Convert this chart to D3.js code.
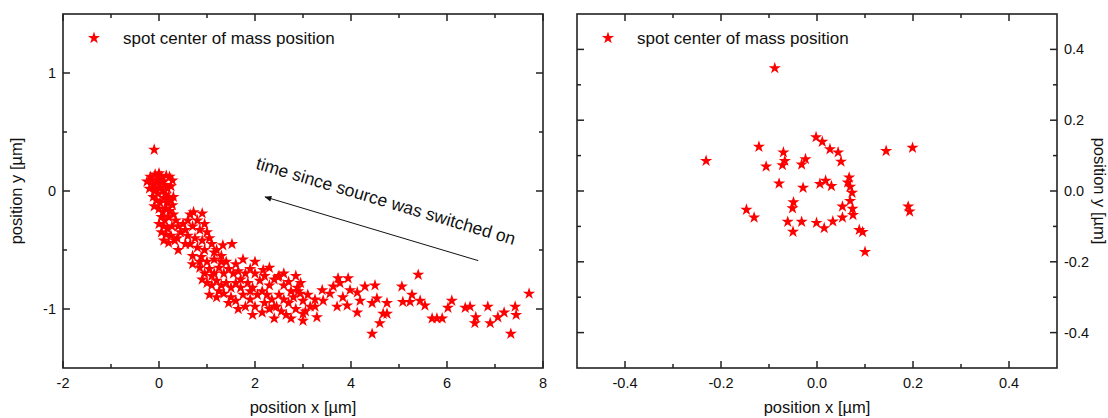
<!DOCTYPE html>
<html>
<head>
<meta charset="utf-8">
<script src="https://cdn.jsdelivr.net/npm/d3@7"></script>
<style>
  body { margin: 0; background: #fff; }
  text { font-family: Arial, "Liberation Sans", sans-serif; fill: #111; }
</style>
</head>
<body>
<svg id="chart" width="1108" height="418"></svg>
<script>
// left panel: drifting spot, [x, y] in µm
var driftPoints = [
  [-0.1, 0.35],
  [-0.25, 0.08], [-0.18, 0.12], [-0.12, 0.05], [-0.08, 0.14], [-0.03, 0.10], [0.0, 0.15],
  [0.05, 0.12], [0.1, 0.08], [0.15, 0.13], [0.22, 0.12], [0.28, 0.09], [-0.2, 0.02],
  [-0.1, 0.0], [0.02, 0.03], [0.08, 0.0], [0.12, 0.05], [0.18, 0.02], [-0.05, 0.07],
  [0.25, 0.04], [-0.15, 0.09], [0.04, 0.08], [-0.02, -0.02], [0.14, -0.03], [-0.08, 0.02],
  [-0.12, -0.05], [-0.05, -0.08], [0.02, -0.1], [0.1, -0.06], [0.16, -0.1], [0.2, -0.05],
  [-0.1, -0.13], [0.0, -0.15], [0.08, -0.18], [0.15, -0.15], [0.22, -0.17], [0.28, -0.12],
  [0.05, -0.22], [0.12, -0.25], [0.2, -0.22], [0.3, -0.2], [0.35, -0.25], [0.0, -0.28],
  [0.1, -0.3], [0.18, -0.32], [0.27, -0.3], [0.4, -0.3], [0.05, -0.35], [0.15, -0.37],
  [0.25, -0.38], [0.33, -0.42], [0.45, -0.35], [0.1, -0.42], [0.2, -0.44], [0.38, -0.4],
  [0.5, -0.28], [0.55, -0.33], [0.3, -0.05], [0.25, -0.08], [0.4, -0.5], [0.55, -0.45],
  [0.6, -0.25], [0.65, -0.2], [0.72, -0.18], [0.9, -0.19], [0.8, -0.25], [0.95, -0.28],
  [0.7, -0.3], [0.85, -0.33], [1.0, -0.35], [0.6, -0.38], [0.75, -0.4], [0.9, -0.42],
  [1.05, -0.4], [0.65, -0.45], [0.8, -0.48], [0.95, -0.5], [1.1, -0.45], [0.7, -0.55],
  [0.88, -0.56], [1.0, -0.6], [1.2, -0.5], [1.33, -0.46], [1.52, -0.45], [1.15, -0.58],
  [1.3, -0.55], [1.4, -0.6], [1.75, -0.58], [0.7, -0.62], [0.85, -0.6], [1.15, -0.52],
  [1.3, -0.6], [1.6, -0.62],
  [0.85, -0.65], [0.95, -0.7], [1.05, -0.66], [1.15, -0.7], [1.25, -0.65], [1.35, -0.7],
  [1.45, -0.66], [1.55, -0.7], [1.65, -0.68], [1.8, -0.7], [1.9, -0.66], [2.0, -0.7],
  [0.9, -0.75], [1.0, -0.78], [1.1, -0.8], [1.2, -0.76], [1.3, -0.8], [1.4, -0.78],
  [1.5, -0.82], [1.6, -0.78], [1.7, -0.82], [1.85, -0.78], [1.95, -0.82], [2.1, -0.76],
  [2.2, -0.72], [1.05, -0.88], [1.2, -0.9], [1.35, -0.87], [1.5, -0.9], [1.6, -0.93],
  [1.75, -0.88], [1.9, -0.92], [2.05, -0.88], [2.15, -0.85], [2.3, -0.8], [2.4, -0.75],
  [2.5, -0.72], [1.8, -0.98], [2.0, -0.98], [2.2, -0.95], [2.35, -0.92], [2.5, -0.88],
  [2.6, -0.8], [2.7, -0.77], [1.1, -0.72], [1.25, -0.85], [1.45, -0.95], [1.65, -1.0],
  [1.7, -0.75], [1.9, -0.85], [2.0, -0.6], [2.3, -0.65],
  [1.95, -1.05], [2.15, -1.03], [2.3, -1.0], [2.45, -0.98], [2.55, -1.02], [2.7, -0.95],
  [2.8, -0.9], [2.9, -0.85], [3.0, -0.93], [2.65, -1.05], [2.85, -1.0], [3.05, -1.02],
  [3.15, -0.98], [3.25, -0.92], [2.4, -1.08], [2.75, -1.08], [3.0, -1.1], [3.1, -0.88],
  [2.95, -0.78], [2.6, -0.7], [2.85, -0.72], [2.25, -0.88], [2.4, -0.98], [2.6, -0.92],
  [2.75, -0.85],
  [2.17, -0.67], [2.48, -0.73], [2.88, -0.82], [2.94, -0.87], [3.0, -1.04], [3.25, -0.98],
  [3.29, -1.07], [3.4, -0.84], [3.42, -0.93], [3.56, -0.87], [3.63, -0.81], [3.73, -0.74],
  [3.94, -0.74], [3.77, -0.78], [3.83, -0.9], [3.71, -0.98], [3.92, -0.97], [3.98, -0.84],
  [4.13, -0.86], [4.19, -0.93], [4.13, -1.03], [4.29, -0.81], [4.5, -0.8], [4.44, -0.95],
  [4.54, -0.91], [4.75, -0.95], [4.67, -1.04], [4.75, -1.04], [4.6, -1.12], [4.44, -1.21],
  [5.06, -0.81], [5.08, -0.94], [5.23, -0.94], [5.27, -0.88], [5.4, -0.71], [5.44, -0.93],
  [5.54, -0.97], [5.69, -1.08], [5.79, -1.08], [5.9, -1.08], [6.02, -0.99], [6.1, -0.93],
  [6.38, -0.99], [6.48, -0.98], [6.6, -1.07], [6.58, -1.12], [6.85, -0.98], [6.9, -1.12],
  [7.06, -1.07], [7.19, -1.03], [7.42, -0.98], [7.44, -1.05], [7.33, -1.21], [7.71, -0.87]
];

// right panel: stable spot, [x, y] in µm
var stablePoints = [
  [-0.088, 0.347], [-0.231, 0.085], [-0.121, 0.125], [-0.070, 0.109], [-0.067, 0.085],
  [-0.072, 0.073], [-0.106, 0.069], [-0.024, 0.090], [-0.032, 0.075], [-0.002, 0.152],
  [0.011, 0.139], [0.027, 0.118], [0.044, 0.109], [0.050, 0.083], [0.144, 0.113],
  [0.199, 0.122], [-0.079, 0.021], [-0.029, 0.009], [0.006, 0.020], [0.018, 0.029],
  [0.030, 0.014], [0.067, 0.038], [0.064, 0.024], [0.069, 0.012], [0.073, -0.005],
  [0.069, -0.028], [0.053, -0.044], [0.074, -0.050], [0.075, -0.068], [0.053, -0.075],
  [-0.049, -0.032], [-0.051, -0.049], [-0.147, -0.053], [-0.131, -0.075], [-0.061, -0.087],
  [-0.032, -0.087], [-0.050, -0.115], [-0.001, -0.090], [0.015, -0.105], [0.033, -0.086],
  [0.088, -0.110], [0.095, -0.116], [0.100, -0.172], [0.190, -0.044], [0.193, -0.058]
];

var leftXMajor = [-2, 0, 2, 4, 6, 8];
var leftXMinor = [-1, 1, 3, 5, 7];
var leftYMajor = [-1, 0, 1];
var leftYMinor = [-0.5, 0.5];
var rightMajor = [-0.4, -0.2, 0, 0.2, 0.4];
var rightMinor = [-0.3, -0.1, 0.1, 0.3];

var legendText = "spot center of mass position";
var arrowText = "time since source was switched on";

var svg = d3.select("#chart");
var plotTop = 14, plotBottom = 368;
var star = d3.symbol().type(d3.symbolStar).size(46);

function drawPanel(o) {
    var x = d3.scaleLinear().domain(o.xDomain).range([o.left, o.right]);
    var y = d3.scaleLinear().domain(o.yDomain).range([plotBottom, plotTop]);
    var g = svg.append("g");

    // tick marks on all four sides, pointing inwards
    function xticks(vals, len) {
        vals.forEach(function(v) {
            var px = x(v);
            g.append("line").attr("x1", px).attr("x2", px).attr("y1", plotBottom).attr("y2", plotBottom - len);
            g.append("line").attr("x1", px).attr("x2", px).attr("y1", plotTop).attr("y2", plotTop + len);
        });
    }
    function yticks(vals, len) {
        vals.forEach(function(v) {
            var py = y(v);
            g.append("line").attr("y1", py).attr("y2", py).attr("x1", o.left).attr("x2", o.left + len);
            g.append("line").attr("y1", py).attr("y2", py).attr("x1", o.right).attr("x2", o.right - len);
        });
    }
    xticks(o.xMajor, 7); xticks(o.xMinor, 4);
    yticks(o.yMajor, 7); yticks(o.yMinor, 4);
    g.selectAll("line").attr("stroke", "#222").attr("stroke-width", 1.5);

    g.append("rect")
        .attr("x", o.left).attr("y", plotTop)
        .attr("width", o.right - o.left).attr("height", plotBottom - plotTop)
        .attr("fill", "none").attr("stroke", "#222").attr("stroke-width", 1.6);

    // tick labels
    g.selectAll(".xl").data(o.xMajor).enter().append("text")
        .attr("x", function(d) { return x(d); })
        .attr("y", plotBottom + 20)
        .attr("text-anchor", "middle")
        .attr("font-size", 14.5)
        .text(o.fmt);
    g.selectAll(".yl").data(o.yMajor).enter().append("text")
        .attr("x", o.yLabelsRight ? o.right + 7 : o.left - 7)
        .attr("y", function(d) { return y(d) + 5; })
        .attr("text-anchor", o.yLabelsRight ? "start" : "end")
        .attr("font-size", 14.5)
        .text(o.fmt);

    // axis titles
    g.append("text")
        .attr("x", (o.left + o.right) / 2).attr("y", 413)
        .attr("text-anchor", "middle").attr("font-size", 16.5)
        .text("position x [µm]");
    var yt = o.yLabelsRight ? 1094 : 22;
    g.append("text")
        .attr("transform", "translate(" + yt + "," + (plotTop + plotBottom) / 2 + ") rotate(" + (o.yLabelsRight ? 90 : -90) + ")")
        .attr("text-anchor", "middle").attr("font-size", 16.5)
        .text("position y [µm]");

    // points
    g.selectAll(".pt").data(o.points).enter().append("path")
        .attr("d", star)
        .attr("transform", function(d) { return "translate(" + x(d[0]) + "," + y(d[1]) + ")"; })
        .attr("fill", "#ff0000");

    // legend
    g.append("path").attr("d", star)
        .attr("transform", "translate(" + (o.left + 31) + ",38)")
        .attr("fill", "#ff0000");
    g.append("text")
        .attr("x", o.left + 60).attr("y", 44)
        .attr("font-size", 17)
        .text(legendText);

    return { x: x, y: y, g: g };
}

var leftPanel = drawPanel({
    left: 63, right: 543, xDomain: [-2, 8], yDomain: [-1.5, 1.5],
    xMajor: leftXMajor, xMinor: leftXMinor, yMajor: leftYMajor, yMinor: leftYMinor,
    fmt: function(d) { return String(d); }, yLabelsRight: false, points: driftPoints
});

drawPanel({
    left: 577, right: 1057, xDomain: [-0.5, 0.5], yDomain: [-0.5, 0.5],
    xMajor: rightMajor, xMinor: rightMinor, yMajor: rightMajor, yMinor: rightMinor,
    fmt: function(d) { return d.toFixed(1); }, yLabelsRight: true, points: stablePoints
});

// arrow annotation on the left panel
svg.append("defs").append("marker")
    .attr("id", "head").attr("viewBox", "0 0 10 10")
    .attr("refX", 9).attr("refY", 5)
    .attr("markerWidth", 9).attr("markerHeight", 7)
    .attr("orient", "auto")
    .append("path").attr("d", "M0,1 L10,5 L0,9 Z").attr("fill", "#111");

var lx = leftPanel.x, ly = leftPanel.y;
svg.append("line")
    .attr("x1", lx(6.65)).attr("y1", ly(-0.59))
    .attr("x2", lx(2.21)).attr("y2", ly(-0.05))
    .attr("stroke", "#111").attr("stroke-width", 1)
    .attr("marker-end", "url(#head)");

svg.append("text")
    .attr("transform", "translate(" + lx(2.0) + "," + ly(0.19) + ") rotate(16.5)")
    .attr("font-size", 17.5)
    .text(arrowText);
</script>
</body>
</html>
